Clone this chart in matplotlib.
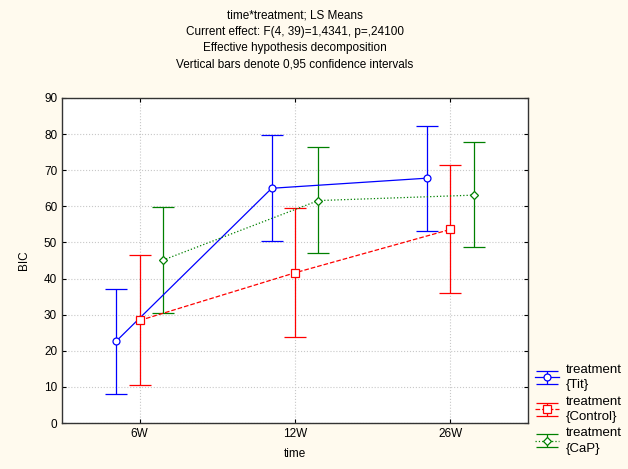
import numpy as np
import matplotlib
matplotlib.use("Agg")
import matplotlib.pyplot as plt

plt.rcParams['font.family'] = ['Liberation Sans', 'DejaVu Sans']

# data
times = ['6W', '12W', '26W']
tit_mean = [22.7, 65.0, 67.8]
tit_lo = [7.9, 50.3, 53.2]
tit_hi = [37.1, 79.8, 82.3]
ctrl_mean = [28.4, 41.6, 53.6]
ctrl_lo = [10.5, 23.7, 35.9]
ctrl_hi = [46.4, 59.5, 71.4]
cap_mean = [45.1, 61.6, 63.1]
cap_lo = [30.5, 47.0, 48.6]
cap_hi = [59.9, 76.3, 77.7]

bg = '#fffaee'
fig = plt.figure(figsize=(6.28, 4.69), dpi=100, facecolor=bg)
ax = fig.add_axes([62 / 628, 1 - 423 / 469, 466 / 628, 325 / 469])
ax.set_facecolor('white')

x = np.arange(len(times))
series = [
    ('treatment\n{Tit}', tit_mean, tit_lo, tit_hi, -0.15, '#0000ff', '-', 'o', 5),
    ('treatment\n{Control}', ctrl_mean, ctrl_lo, ctrl_hi, 0.0, '#ff0000', '--', 's', 6),
    ('treatment\n{CaP}', cap_mean, cap_lo, cap_hi, 0.15, '#008000', ':', 'D', 4),
]
for label, m, lo, hi, off, col, ls, mk, ms in series:
    m = np.array(m)
    err = [m - np.array(lo), np.array(hi) - m]
    ax.errorbar(x + off, m, yerr=err, color=col, ls=ls, lw=0.9, marker=mk,
                ms=ms, mfc='white', mec=col, mew=0.9, capsize=8, capthick=0.9,
                elinewidth=0.9, label=label)

ax.set_xlim(-0.5, 2.5)
ax.set_ylim(0, 90)
ax.set_xticks(x)
ax.set_xticklabels(times)
ax.set_yticks(range(0, 91, 10))
ax.tick_params(direction='in', top=True, right=True, labelsize=8.5, length=3)
ax.grid(True, color='#c8c8c8', ls=':', lw=0.8)
for s in ax.spines.values():
    s.set_color('#333333')
    s.set_linewidth(1.0)

ax.set_xlabel('time', fontsize=8.5, labelpad=6)
ax.set_ylabel('BIC', fontsize=8.5, labelpad=10)

title = ('time*treatment; LS Means\n'
         'Current effect: F(4, 39)=1,4341, p=,24100\n'
         'Effective hypothesis decomposition\n'
         'Vertical bars denote 0,95 confidence intervals')
fig.text(295 / 628, 1 - 9 / 469, title, ha='center', va='top', fontsize=8.5,
         linespacing=1.5)

leg = ax.legend(loc='upper left', bbox_to_anchor=(1.01, 0.19), frameon=False,
                fontsize=9.5, handlelength=1.8, handletextpad=0.5,
                labelspacing=0.35, borderaxespad=0, borderpad=0.2)
for t in leg.get_texts():
    t.set_linespacing(1.35)

fig.savefig('out.png', dpi=100, facecolor=bg)
